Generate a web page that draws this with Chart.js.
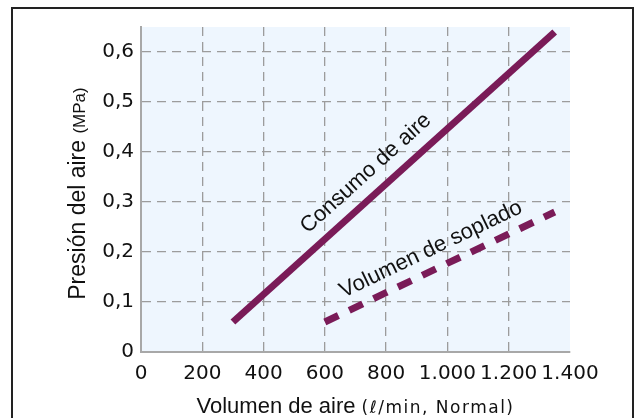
<!DOCTYPE html>
<html lang="es">
<head>
  <meta charset="UTF-8" />
  <title>Presión del aire</title>
  <script src="https://cdn.jsdelivr.net/npm/chart.js"></script>
  <style>
    body {
      margin: 0;
      background: #ffffff;
      overflow: hidden;
    }
    #wrap {
      width: 637px;
      height: 418px;
    }
  </style>
</head>
<body>
  <div id="wrap"><canvas id="myChart"></canvas></div>

  <script>
    // Datos
    const consumoX = [300, 1350];
    const consumoY = [0.06, 0.64];
    const sopladoX = [600, 1350];
    const sopladoY = [0.06, 0.28];

    const xTicks = [0, 200, 400, 600, 800, 1000, 1200, 1400];
    const xTickLabels = ["0", "200", "400", "600", "800", "1.000", "1.200", "1.400"];
    const yTicks = [0, 0.1, 0.2, 0.3, 0.4, 0.5, 0.6];
    const yTickLabels = ["0", "0,1", "0,2", "0,3", "0,4", "0,5", "0,6"];

    const serieLabels = ["Consumo de aire", "Volumen de soplado"];

    const lineColor = "#7a1b58";
    const gridColor = "#9c9c9c";

    const toPoints = (xs, ys) => xs.map((x, i) => ({ x: x, y: ys[i] }));

    // fondo del area del grafico y marco exterior
    const backgroundPlugin = {
      id: "fondo",
      beforeDraw: (chart) => {
        const { ctx, chartArea } = chart;
        ctx.save();
        ctx.fillStyle = "#ffffff";
        ctx.fillRect(0, 0, chart.width, chart.height);
        ctx.fillStyle = "#eef6fe";
        ctx.fillRect(chartArea.left, chartArea.top, chartArea.right - chartArea.left, chartArea.bottom - chartArea.top);
        ctx.restore();
      },
      afterDraw: (chart) => {
        const ctx = chart.ctx;
        ctx.save();
        ctx.strokeStyle = "#222222";
        ctx.lineWidth = 2;
        ctx.strokeRect(12, 8, 621, 430);
        ctx.restore();
      }
    };

    // textos de ejes con dos tamaños de letra
    function drawMixed(ctx, big, small, bigFont, smallFont, smallSpacing) {
      ctx.font = bigFont;
      ctx.letterSpacing = "0px";
      const w1 = ctx.measureText(big).width;
      ctx.font = smallFont;
      ctx.letterSpacing = smallSpacing;
      const w2 = ctx.measureText(small).width;
      const start = -(w1 + w2) / 2;
      ctx.textAlign = "left";
      ctx.textBaseline = "alphabetic";
      ctx.font = bigFont;
      ctx.letterSpacing = "0px";
      ctx.fillText(big, start, 0);
      ctx.font = smallFont;
      ctx.letterSpacing = smallSpacing;
      ctx.fillText(small, start + w1, 0);
      ctx.letterSpacing = "0px";
    }

    const titlesPlugin = {
      id: "titulos",
      afterDraw: (chart) => {
        const { ctx, chartArea } = chart;
        ctx.save();
        ctx.fillStyle = "#111111";
        ctx.translate((chartArea.left + chartArea.right) / 2, 413);
        drawMixed(ctx, "Volumen de aire ", "(ℓ/min, Normal)", "22px 'Liberation Sans', Arial, sans-serif", "17px 'DejaVu Sans', sans-serif", "1.5px");
        ctx.restore();

        ctx.save();
        ctx.fillStyle = "#111111";
        ctx.translate(85, (chartArea.top + chartArea.bottom) / 2 + 4);
        ctx.rotate(-Math.PI / 2);
        drawMixed(ctx, "Presión del aire ", "(MPa)", "23px 'Liberation Sans', Arial, sans-serif", "17px 'Liberation Sans', Arial, sans-serif", "0px");
        ctx.restore();
      }
    };

    // etiquetas junto a las lineas, giradas segun la pendiente
    const lineLabelsPlugin = {
      id: "etiquetasLinea",
      afterDatasetsDraw: (chart) => {
        const { ctx, scales } = chart;
        const sx = scales.x, sy = scales.y;
        const anchors = [
          { x: 734, y: 0.357 },
          { x: 946, y: 0.205 }
        ];
        const series = [[consumoX, consumoY], [sopladoX, sopladoY]];
        ctx.save();
        ctx.fillStyle = "#111111";
        ctx.font = "22px 'Liberation Sans', Arial, sans-serif";
        ctx.textAlign = "center";
        ctx.textBaseline = "middle";
        series.forEach((s, i) => {
          const dx = sx.getPixelForValue(s[0][1]) - sx.getPixelForValue(s[0][0]);
          const dy = sy.getPixelForValue(s[1][1]) - sy.getPixelForValue(s[1][0]);
          const ang = Math.atan2(dy, dx);
          ctx.save();
          ctx.translate(sx.getPixelForValue(anchors[i].x), sy.getPixelForValue(anchors[i].y));
          ctx.rotate(ang);
          ctx.fillText(serieLabels[i], 0, 0);
          ctx.restore();
        });
        ctx.restore();
      }
    };

    const ctx = document.getElementById("myChart").getContext("2d");

    new Chart(ctx, {
      type: "line",
      data: {
        datasets: [
          {
            label: serieLabels[0],
            data: toPoints(consumoX, consumoY),
            borderColor: lineColor,
            borderWidth: 7,
            borderCapStyle: "butt",
            pointRadius: 0,
            fill: false
          },
          {
            label: serieLabels[1],
            data: toPoints(sopladoX, sopladoY),
            borderColor: lineColor,
            borderWidth: 7,
            borderCapStyle: "butt",
            borderDash: [15, 12],
            pointRadius: 0,
            fill: false
          }
        ]
      },
      options: {
        responsive: true,
        maintainAspectRatio: false,
        animation: false,
        layout: {
          padding: { top: 27, left: 0, right: 67, bottom: 0 }
        },
        plugins: {
          legend: { display: false },
          tooltip: { enabled: false }
        },
        scales: {
          x: {
            type: "linear",
            min: 0,
            max: 1400,
            afterFit: (scale) => { scale.height = 66; },
            afterBuildTicks: (scale) => { scale.ticks = xTicks.map(v => ({ value: v })); },
            ticks: {
              padding: 10,
              color: "#111111",
              maxRotation: 0,
              font: { family: "'DejaVu Sans'", size: 20 },
              callback: (value, index) => xTickLabels[index]
            },
            grid: {
              drawTicks: false,
              lineWidth: 1.3,
              color: (c) => (c.tick && (c.tick.value === 0 || c.tick.value === 1400)) ? "rgba(0,0,0,0)" : gridColor
            },
            border: {
              display: true,
              color: "#a8a8a8",
              width: 2,
              dash: [9, 6]
            }
          },
          y: {
            min: 0,
            max: 0.65,
            afterFit: (scale) => { scale.width = 141; },
            afterBuildTicks: (scale) => { scale.ticks = yTicks.map(v => ({ value: v })); },
            ticks: {
              padding: 7,
              color: "#111111",
              font: { family: "'DejaVu Sans'", size: 20 },
              callback: (value, index) => yTickLabels[index]
            },
            grid: {
              drawTicks: false,
              lineWidth: 1.3,
              color: (c) => (c.tick && c.tick.value === 0) ? "rgba(0,0,0,0)" : gridColor
            },
            border: {
              display: true,
              color: "#a8a8a8",
              width: 2,
              dash: [9, 6]
            }
          }
        }
      },
      plugins: [backgroundPlugin, titlesPlugin, lineLabelsPlugin]
    });
  </script>
</body>
</html>
